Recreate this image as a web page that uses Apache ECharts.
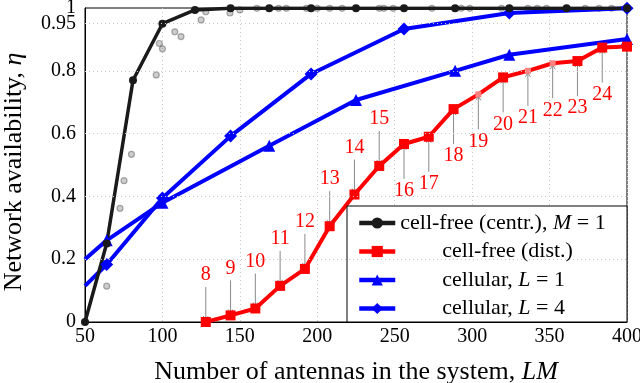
<!DOCTYPE html>
<html><head><meta charset="utf-8">
<script src="https://cdn.jsdelivr.net/npm/echarts@6/dist/echarts.min.js"></script>
<style>html,body{margin:0;padding:0;background:#fff}#c{width:640px;height:383px}</style>
</head><body><div id="c"></div><script>
// ---- data ----
const xTicks = [50, 100, 150, 200, 250, 300, 350, 400];
const yTicks = [0, 0.2, 0.4, 0.6, 0.8, 1];
const yTicksExtra = [0.95];

const seriesNames = ['cell-free (centr.), M = 1', 'cell-free (dist.)', 'cellular, L = 1', 'cellular, L = 4'];

const centrX = [50, 64, 81, 100, 121, 144, 169, 196, 225, 256, 289, 324, 361, 400];
const centrY = [0, 0.25, 0.77, 0.95, 0.994, 0.999, 0.999, 0.999, 0.999, 0.999, 0.999, 0.999, 0.999, 0.999];

const distX = [128, 144, 160, 176, 192, 208, 224, 240, 256, 272, 288, 304, 320, 336, 352, 368, 384, 400];
const distY = [0, 0.021, 0.043, 0.115, 0.169, 0.305, 0.406, 0.497, 0.567, 0.590, 0.678, 0.725, 0.779, 0.800, 0.824, 0.831, 0.874, 0.877];
const distLabels = [8, 9, 10, 11, 12, 13, 14, 15, 16, 17, 18, 19, 20, 21, 22, 23, 24];
const distFaded = [304, 336, 352];

const cellL1X = [50, 64, 100, 169, 225, 289, 324, 400];
const cellL1Y = [0.2, 0.26, 0.38, 0.561, 0.707, 0.80, 0.851, 0.901];

const cellL4X = [50, 64, 100, 144, 196, 256, 324, 400];
const cellL4Y = [0.115, 0.183, 0.395, 0.592, 0.79, 0.933, 0.984, 0.999];

const grayX = [50, 64, 72.6, 75.2, 80, 96, 98, 100, 108, 112, 125, 128, 143.6, 150, 161, 175, 180, 193, 200, 208, 216, 240, 243, 249, 274, 293, 298.5, 319, 336, 342, 348, 373, 382, 390];
const grayY = [0, 0.114, 0.362, 0.45, 0.534, 0.787, 0.887, 0.87, 0.924, 0.909, 0.962, 0.988, 0.984, 0.994, 0.999, 0.999, 0.999, 0.999, 0.999, 0.999, 0.999, 0.999, 0.999, 0.999, 0.999, 0.999, 0.999, 0.999, 0.999, 0.999, 0.999, 0.999, 0.999, 0.999];

// ---- chart ----
const FONT = '"Liberation Serif", "DejaVu Serif", serif';
const pairs = (xs, ys) => xs.map((x, i) => [x, ys[i]]);
const hideFirst = (d) => d.map((p, i) => i === 0 ? { value: p, symbol: 'none' } : p);

const chart = echarts.init(document.getElementById('c'), null, { renderer: 'canvas' });

function legendFmt(name) {
  const idx = seriesNames.indexOf(name);
  const m = name.match(/^(.*, )([A-Z])( = \d)$/);
  let s = idx > 0 ? '{s| }' : '';
  if (m) s += '{n|' + m[1] + '}{i|' + m[2] + '}{n|' + m[3] + '}';
  else s += '{n|' + name + '}';
  return s;
}

const titleRich = {
  n: { fontFamily: FONT, fontSize: 26, color: '#000' },
  i: { fontFamily: FONT, fontSize: 26, fontStyle: 'italic', color: '#000' }
};
const yLabelStyle = { color: '#000', fontFamily: FONT, fontSize: 20, margin: 9, showMinLabel: true, showMaxLabel: true, formatter: v => String(v) };

const option = {
  animation: false,
  backgroundColor: '#fff',
  grid: { left: 85, right: 13, top: 8, bottom: 61, outerBoundsMode: 'none', containLabel: false, show: true, borderColor: '#000', borderWidth: 1, backgroundColor: 'transparent' },
  xAxis: {
    type: 'value', min: 50, max: 400, interval: 50,
    name: '{n|Number of antennas in the system, }{i|LM}',
    nameLocation: 'middle', nameGap: 37,
    nameTextStyle: { rich: titleRich },
    axisLine: { show: true, lineStyle: { color: '#000', width: 1 } },
    axisTick: { show: false },
    axisLabel: { color: '#000', fontFamily: FONT, fontSize: 20, margin: 5, customValues: xTicks, showMinLabel: true, showMaxLabel: true },
    splitLine: { show: true, lineStyle: { color: '#c8c8c8', type: [1, 3], width: 1 } }
  },
  yAxis: [{
    type: 'value', min: 0, max: 1,
    name: '{n|Network availability, }{i|η}',
    nameLocation: 'middle', nameGap: 58, nameRotate: 90,
    nameTextStyle: { rich: titleRich, padding: [0, 14, 0, 0] },
    axisLine: { show: true, lineStyle: { color: '#000', width: 1 } },
    axisTick: { show: false },
    axisLabel: Object.assign({ customValues: yTicks }, yLabelStyle),
    splitLine: { show: false }
  }, {
    type: 'value', min: 0, max: 1, position: 'left', offset: 0,
    axisLine: { show: false }, axisTick: { show: false }, splitLine: { show: false },
    axisLabel: Object.assign({ customValues: yTicksExtra }, yLabelStyle)
  }],
  legend: {
    data: seriesNames,
    orient: 'vertical', left: 357, top: 212, padding: 0,
    itemWidth: 36, itemHeight: 14, itemGap: 6.5,
    formatter: legendFmt,
    lineStyle: { width: 4.5 },
    textStyle: {
      rich: {
        n: { fontFamily: FONT, fontSize: 22, color: '#000', lineHeight: 22 },
        i: { fontFamily: FONT, fontSize: 22, color: '#000', fontStyle: 'italic', lineHeight: 22 },
        s: { width: 42, lineHeight: 22 }
      }
    },
    z: 6
  },
  graphic: [{
    type: 'rect', z: 5, silent: true,
    shape: { x: 347, y: 206, width: 280, height: 116 },
    style: { fill: '#fff', stroke: '#000', lineWidth: 1 }
  }],
  series: [
    {
      name: 'gray', type: 'scatter', z: 1, silent: true,
      data: pairs(grayX, grayY),
      symbol: 'circle', symbolSize: 6,
      itemStyle: { color: 'rgba(100,100,100,0.4)', borderColor: 'rgba(60,60,60,0.5)', borderWidth: 1.2 },
      markLine: {
        silent: true, symbol: ['none', 'none'], label: { show: false },
        lineStyle: { color: '#c8c8c8', type: [1, 3], width: 1 },
        data: yTicks.concat(yTicksExtra).filter(v => v > 0 && v < 1).map(v => ({ yAxis: v }))
      }
    },
    {
      name: 'annot', type: 'custom', z: 2, silent: true,
      data: distLabels.map((l, i) => [distX[i], distY[i], l]),
      renderItem(params, api) {
        const p = api.coord([api.value(0), api.value(1)]);
        const lab = api.value(2);
        const dir = lab <= 15 ? -1 : 1;
        const ty = p[1] + dir * 47;
        const y0 = p[1] + dir * 35;
        const yTip = p[1] + dir * 2;
        return {
          type: 'group',
          children: [
            { type: 'line', shape: { x1: p[0], y1: y0, x2: p[0], y2: yTip }, style: { stroke: '#8a8a8a', lineWidth: 1 } },
            { type: 'polyline', shape: { points: [[p[0] - 2.5, yTip + dir * 4], [p[0], yTip], [p[0] + 2.5, yTip + dir * 4]] }, style: { stroke: '#8a8a8a', lineWidth: 1, fill: null } },
            { type: 'text', x: p[0], y: ty, style: { text: String(lab), fill: '#ff0000', font: '20px ' + FONT, align: 'center', verticalAlign: 'middle' } }
          ]
        };
      }
    },
    {
      name: seriesNames[2], type: 'line', z: 3,
      data: hideFirst(pairs(cellL1X, cellL1Y)),
      symbol: 'triangle', symbolSize: 12,
      lineStyle: { color: '#0000ff', width: 4 },
      itemStyle: { color: '#0000ff' }
    },
    {
      name: seriesNames[3], type: 'line', z: 3,
      data: hideFirst(pairs(cellL4X, cellL4Y)),
      symbol: 'diamond', symbolSize: 13,
      lineStyle: { color: '#0000ff', width: 4 },
      itemStyle: { color: '#0000ff' }
    },
    {
      name: seriesNames[0], type: 'line', z: 3,
      data: pairs(centrX, centrY),
      symbol: 'circle', symbolSize: 8,
      lineStyle: { color: '#1a1a1a', width: 3.5 },
      itemStyle: { color: '#1a1a1a' }
    },
    {
      name: seriesNames[1], type: 'line', z: 4,
      data: pairs(distX, distY).map(p => distFaded.includes(p[0]) ? { value: p, symbolSize: 6, itemStyle: { color: '#ff8080' } } : p),
      symbol: 'rect', symbolSize: 10,
      lineStyle: { color: '#ff0000', width: 4 },
      itemStyle: { color: '#ff0000' }
    }
  ]
};
chart.setOption(option);
</script></body></html>
